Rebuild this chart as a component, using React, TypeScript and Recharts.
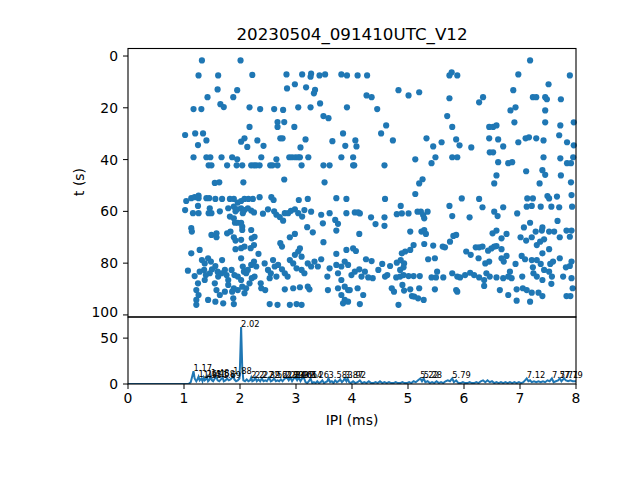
import { ScatterChart, ComposedChart, Scatter, Line, XAxis, YAxis } from 'recharts'

const TITLE = '20230504_091410UTC_V12'
const BLUE = '#1f77b4'
const FONT = 'DejaVu Sans, sans-serif'

const X_TICKS = [0, 1, 2, 3, 4, 5, 6, 7, 8]
const T_TICKS = [0, 20, 40, 60, 80, 100]
const COUNT_TICKS = [0, 50]

// [IPI (ms), t (s)]
const SCATTER_POINTS: [number, number][] = [
  [1.32, 1.7], [2.01, 1.7], [1.26, 7.5], [1.61, 7.5], [2.22, 7.3], [2.83, 7.1], [3.11, 7.1], [3.27, 6.8],
  [3.26, 8.0], [3.42, 7.5], [3.52, 7.1], [3.81, 7.1], [3.91, 7.5], [1.6, 12.9], [1.95, 13.2], [2.84, 12.5],
  [2.98, 10.9], [3.18, 12.1], [3.34, 13.1], [3.32, 14.4], [1.42, 15.9], [1.88, 15.9], [1.65, 18.6], [1.71, 19.7],
  [3.43, 18.3], [1.17, 20.5], [1.31, 20.5], [2.17, 19.8], [2.36, 20.5], [2.61, 20.5], [2.77, 20.8], [3.04, 19.8],
  [3.26, 19.8], [3.91, 19.8], [3.49, 23.2], [3.58, 24.0], [2.67, 25.5], [2.79, 25.5], [2.67, 27.4], [2.17, 27.4],
  [2.97, 27.4], [1.02, 30.5], [1.2, 29.9], [1.34, 29.9], [1.25, 34.4], [1.4, 32.6], [2.02, 33.1], [2.08, 31.8],
  [2.13, 35.1], [2.31, 32.6], [2.42, 34.7], [2.72, 31.8], [2.76, 31.8], [3.08, 35.3], [3.17, 32.2], [3.65, 32.9],
  [3.84, 29.9], [3.88, 34.7],
  [1.17, 39.1], [1.4, 39.1], [1.47, 39.1], [1.67, 39.1], [1.86, 39.1], [1.95, 39.9], [2.38, 39.1], [2.65, 39.9],
  [2.88, 39.1], [2.93, 39.1], [2.99, 39.1], [3.04, 39.1], [3.07, 39.1], [3.22, 39.1], [3.81, 39.1], [4.02, 39.1],
  [1.44, 42.2], [1.49, 42.2], [1.77, 42.2], [1.94, 42.2], [2.04, 42.2], [2.2, 42.2], [2.25, 42.2], [2.29, 42.2],
  [2.35, 42.2], [2.54, 42.2], [2.58, 42.2], [2.67, 42.2], [3.1, 42.2], [3.49, 42.2], [3.6, 42.2], [4.02, 42.2],
  [1.55, 49.0], [1.63, 48.8], [2.06, 48.8], [2.79, 47.7], [3.51, 48.8],
  [7.18, 1.7], [4.1, 7.5], [4.27, 7.5], [5.74, 7.5], [5.78, 6.3], [5.88, 7.5], [6.97, 7.1], [7.89, 7.5],
  [4.83, 13.2], [5.01, 15.2], [5.2, 14.0], [4.26, 15.2], [4.35, 15.9], [4.45, 20.5], [5.74, 16.3], [5.7, 23.2],
  [5.79, 27.4], [6.27, 17.9], [6.34, 15.9], [6.88, 13.2], [6.92, 19.8], [6.83, 21.0], [7.23, 15.9], [7.29, 15.9],
  [7.45, 15.9], [7.48, 16.7], [7.51, 10.9], [7.73, 16.7], [7.45, 21.0], [6.9, 25.6], [7.45, 25.6], [7.72, 26.8],
  [7.96, 25.6], [6.45, 27.4], [6.52, 27.4], [6.58, 26.8], [4.61, 26.8], [4.52, 29.9], [4.06, 32.6], [4.08, 34.9],
  [4.04, 42.2], [4.73, 32.6], [5.33, 31.8], [5.45, 34.9], [5.6, 33.3], [5.79, 39.1], [5.88, 39.1], [5.86, 32.2],
  [5.92, 34.5], [6.13, 35.3], [6.45, 31.8], [6.46, 37.2], [6.52, 37.2], [6.61, 32.2], [6.7, 34.9], [6.97, 33.3],
  [7.1, 31.8], [7.16, 31.4], [7.29, 31.8], [7.42, 32.6], [7.7, 30.6], [7.84, 33.3], [7.96, 34.5], [5.13, 39.9],
  [5.42, 41.4], [5.49, 39.1], [4.58, 42.2], [6.61, 41.0], [6.79, 41.4], [6.86, 41.0], [7.4, 44.1], [7.45, 45.9],
  [7.11, 44.5], [7.42, 39.1], [7.72, 39.5], [7.73, 46.1], [7.84, 41.4], [7.91, 41.4], [7.95, 39.1], [6.58, 46.1],
  [6.54, 49.2], [5.26, 47.6], [5.2, 49.2], [7.35, 49.2], [7.91, 48.8],
  [1.04, 56.0], [1.13, 54.9], [1.19, 54.5], [1.26, 53.9], [1.26, 54.9], [1.4, 54.9], [1.45, 54.9], [1.56, 55.2],
  [1.68, 55.2], [1.82, 55.2], [1.89, 55.2], [1.96, 56.6], [2.02, 56.0], [2.08, 55.2], [2.15, 55.2], [2.23, 55.2],
  [2.35, 54.5], [2.56, 54.5], [2.6, 55.6], [3.05, 55.6], [3.21, 55.2], [3.72, 54.9], [3.9, 55.2],
  [1.02, 59.5], [1.16, 60.7], [1.25, 57.9], [1.26, 60.7], [1.46, 58.8], [1.44, 60.7], [1.49, 60.7], [1.64, 60.0],
  [1.79, 58.8], [1.82, 62.0], [1.89, 58.2], [1.92, 60.0], [1.95, 59.2], [2.02, 58.8], [2.05, 60.7], [2.08, 59.5],
  [2.14, 58.8], [2.2, 59.7], [2.25, 60.4], [2.41, 60.9], [2.5, 59.2], [2.61, 60.0], [2.65, 61.3], [2.71, 62.2],
  [2.77, 63.6], [2.8, 60.7], [2.86, 60.7], [2.91, 59.8], [2.98, 59.2], [3.04, 60.7], [3.11, 62.0], [3.15, 59.5],
  [3.27, 60.1], [3.45, 61.3], [3.48, 64.6], [3.6, 60.7], [3.7, 63.3], [3.75, 64.8], [3.9, 60.7],
  [1.13, 66.5], [1.14, 67.8], [1.89, 62.7], [1.91, 64.4], [1.96, 64.4], [2.02, 64.4], [2.04, 65.9], [2.04, 67.2],
  [2.2, 67.2], [1.49, 69.1], [1.58, 68.5], [1.58, 70.0], [1.77, 68.5], [1.83, 67.8], [1.89, 70.0], [1.92, 71.3],
  [2.02, 71.0], [2.21, 70.4], [2.26, 69.8], [2.25, 73.0], [2.02, 74.2], [1.92, 74.6], [2.08, 73.6], [2.19, 74.2],
  [2.33, 76.4], [2.72, 72.3], [2.75, 73.6], [2.89, 70.0], [2.98, 68.7], [3.2, 66.1], [3.3, 68.1], [3.49, 71.9],
  [3.72, 67.4],
  [1.13, 76.2], [1.28, 74.9], [1.07, 82.9], [1.19, 85.0], [1.25, 87.8], [1.22, 90.4], [1.26, 92.3], [1.22, 94.2],
  [1.22, 96.1], [1.32, 78.8], [1.37, 80.1], [1.36, 82.6], [1.43, 78.1], [1.48, 79.4], [1.5, 82.4], [1.46, 83.9],
  [1.56, 81.1], [1.6, 83.3], [1.61, 85.2], [1.68, 78.8], [1.67, 83.9], [1.73, 82.6], [1.76, 84.6], [1.79, 86.5],
  [1.55, 87.8], [1.58, 90.4], [1.64, 92.3], [1.56, 94.9], [1.43, 94.2], [1.7, 95.5], [1.85, 82.6], [1.9, 84.6],
  [1.89, 89.7], [1.88, 93.6], [1.89, 95.8], [1.96, 85.2], [2.02, 78.1], [2.05, 81.3], [2.07, 83.3], [2.02, 86.5],
  [2.04, 89.1], [2.08, 91.6], [2.11, 83.9], [2.14, 82.6], [2.2, 80.7], [2.25, 79.4], [2.29, 81.3], [2.26, 85.2],
  [2.21, 85.8], [2.37, 87.8], [2.38, 89.7], [2.45, 90.4], [2.44, 80.1], [2.5, 82.6], [2.55, 83.9], [2.59, 78.8],
  [2.62, 81.3], [2.68, 80.7], [2.75, 82.4], [2.8, 83.9], [2.85, 85.2], [2.65, 85.2], [2.53, 85.8], [2.8, 90.1],
  [2.95, 89.7], [3.07, 89.3], [3.21, 89.1], [3.24, 90.1], [2.53, 95.8], [2.67, 96.1], [2.89, 96.1], [3.01, 95.8],
  [3.1, 96.1], [2.89, 78.8], [2.95, 80.1], [2.98, 76.8], [3.04, 75.5], [3.07, 74.3], [3.1, 77.5], [3.01, 82.0],
  [3.1, 82.6], [3.15, 83.9], [3.21, 80.1], [3.27, 81.3], [3.33, 79.4], [3.39, 81.3], [3.45, 78.5], [3.6, 82.0],
  [3.72, 80.7], [3.81, 81.3], [3.87, 79.4], [3.93, 80.7], [3.56, 85.2], [3.75, 83.9], [3.81, 86.5], [3.87, 89.1],
  [3.75, 89.7], [3.93, 90.4], [3.57, 90.4], [3.81, 92.3], [3.87, 94.2], [3.84, 95.5], [3.93, 94.9], [3.9, 74.9],
  [3.72, 76.4], [1.37, 86.5], [1.28, 83.3], [1.39, 84.6], [1.79, 88.4], [1.73, 91.0], [1.96, 90.4], [2.11, 89.7],
  [2.17, 87.8], [1.86, 91.0],
  [4.59, 55.2], [5.13, 53.3], [5.74, 57.9], [5.79, 61.8], [5.96, 55.0], [6.27, 55.2], [6.33, 58.4], [6.7, 58.4],
  [6.54, 60.1], [6.6, 61.8], [7.13, 55.0], [7.23, 55.0], [7.12, 58.2], [7.21, 57.9], [7.49, 54.1], [7.52, 55.0],
  [7.66, 54.3], [7.37, 58.2], [7.56, 58.2], [7.7, 58.4], [7.92, 53.7], [7.93, 58.2], [4.05, 60.4], [4.11, 60.4],
  [4.14, 60.8], [4.34, 62.3], [4.42, 64.9], [4.58, 62.3], [4.58, 65.6], [4.8, 61.1], [4.87, 57.9], [4.89, 60.8],
  [5.01, 60.8], [5.17, 60.1], [5.23, 60.1], [5.35, 60.1], [5.27, 61.4], [5.29, 62.7], [4.13, 68.7], [5.04, 67.8],
  [5.24, 67.8], [5.29, 67.2], [5.32, 68.7], [6.1, 62.3], [6.51, 68.5], [6.58, 67.4], [6.76, 68.7], [6.67, 70.4],
  [6.95, 60.8], [7.07, 66.2], [7.18, 64.4], [7.28, 67.8], [7.39, 67.4], [7.4, 66.2], [7.52, 67.8], [7.61, 67.8],
  [7.67, 63.7], [7.71, 70.0], [7.83, 67.4], [7.92, 67.4], [7.89, 69.8], [7.01, 70.0], [7.11, 71.3], [7.21, 70.0],
  [7.3, 73.0], [7.36, 71.7], [7.43, 70.8], [7.52, 74.6], [7.4, 76.2],
  [4.02, 74.3], [4.07, 75.3], [4.25, 78.5], [4.35, 79.2], [4.47, 82.6], [4.54, 80.3], [4.68, 81.1], [4.8, 79.8],
  [4.89, 76.2], [4.87, 78.8], [4.95, 75.5], [5.04, 74.9], [5.1, 73.0], [4.93, 80.1], [4.92, 81.6], [4.86, 82.6],
  [5.29, 72.6], [5.36, 78.5], [5.48, 78.1], [5.52, 83.3], [5.45, 73.2], [5.62, 73.6], [5.66, 73.9], [5.75, 71.7],
  [5.81, 69.5], [5.86, 69.1], [6.04, 75.5], [6.12, 76.8], [6.21, 73.9], [6.27, 73.9], [6.33, 73.6], [6.26, 78.1],
  [6.38, 80.1], [6.43, 75.2], [6.49, 74.3], [6.54, 73.6], [6.58, 73.4], [6.45, 79.4], [6.67, 74.6], [6.67, 78.1],
  [6.71, 79.4], [6.76, 77.2], [6.82, 83.3], [6.92, 80.3], [7.03, 77.2], [7.09, 78.5], [7.21, 78.8], [7.23, 81.6],
  [7.3, 78.8], [7.37, 80.3], [7.43, 82.6], [7.54, 80.3], [7.59, 79.4], [7.71, 78.1], [7.82, 81.6], [7.89, 81.1],
  [7.92, 79.4],
  [3.99, 84.6], [4.05, 83.3], [4.13, 82.4], [4.17, 85.2], [4.23, 83.3], [4.29, 85.5], [4.37, 85.8], [4.59, 85.2],
  [4.63, 84.6], [4.79, 85.5], [4.86, 85.2], [4.92, 84.6], [5.01, 85.0], [5.1, 85.0], [5.21, 85.0], [5.42, 85.5],
  [5.5, 85.5], [5.63, 85.5], [5.79, 83.9], [5.88, 85.2], [5.93, 85.5], [6.02, 84.6], [6.11, 83.7], [6.18, 84.6],
  [6.27, 85.5], [6.36, 86.5], [6.4, 83.9], [6.46, 85.2], [6.58, 85.5], [6.7, 85.8], [6.79, 85.2], [6.85, 85.8],
  [7.04, 85.2], [7.24, 83.9], [7.3, 85.2], [7.4, 86.5], [7.52, 83.3], [7.57, 85.2], [7.77, 85.2], [7.92, 85.8],
  [3.96, 90.4], [4.1, 89.7], [4.2, 92.3], [4.14, 95.8], [4.71, 89.7], [4.75, 91.0], [4.83, 96.1], [4.9, 88.4],
  [4.93, 90.6], [5.04, 90.1], [5.07, 92.7], [5.11, 92.9], [5.2, 89.7], [5.18, 93.6], [5.28, 94.2], [5.48, 90.1],
  [5.86, 90.4], [5.88, 91.0], [6.36, 88.8], [6.64, 90.4], [6.79, 92.3], [6.94, 90.1], [6.94, 94.5], [7.05, 89.7],
  [7.12, 90.4], [7.21, 91.4], [7.18, 94.9], [7.33, 91.4], [7.4, 92.7], [7.56, 88.0], [7.83, 92.7], [7.9, 92.7],
  [7.94, 89.7],
]

// IPI histogram: bin position (ms) and count
const HIST_IPI = [
  0, 1.08, 1.12, 1.15, 1.17, 1.19, 1.22, 1.24, 1.26, 1.28, 1.31, 1.33, 1.35, 1.37, 1.39, 1.41, 1.43, 1.46, 1.48, 1.5,
  1.52, 1.55, 1.58, 1.6, 1.63, 1.66, 1.69, 1.71, 1.74, 1.77, 1.8, 1.83, 1.86, 1.88, 1.9, 1.93, 1.96, 1.99, 2.0, 2.02,
  2.04, 2.06, 2.09, 2.12, 2.15, 2.18, 2.2, 2.22, 2.25, 2.27, 2.3, 2.33, 2.36, 2.39, 2.42, 2.45, 2.48, 2.52, 2.55, 2.58,
  2.61, 2.64, 2.67, 2.7, 2.73, 2.76, 2.8, 2.84, 2.87, 2.9, 2.93, 2.96, 2.99, 3.02, 3.05, 3.08, 3.11, 3.14, 3.17, 3.2,
  3.23, 3.26, 3.29, 3.32, 3.35, 3.38, 3.41, 3.44, 3.47, 3.5, 3.53, 3.56, 3.58, 3.61, 3.64, 3.67, 3.7, 3.73, 3.76, 3.79,
  3.82, 3.85, 3.87, 3.9, 3.92, 3.95, 3.98, 4.02, 4.06, 4.1, 4.14, 4.18, 4.22, 4.26, 4.3, 4.34, 4.38, 4.42, 4.46, 4.5,
  4.54, 4.58, 4.62, 4.66, 4.7, 4.74, 4.78, 4.82, 4.86, 4.9, 4.94, 4.98, 5.02, 5.06, 5.1, 5.14, 5.18, 5.22, 5.25, 5.28,
  5.31, 5.35, 5.39, 5.43, 5.47, 5.51, 5.55, 5.59, 5.63, 5.67, 5.71, 5.75, 5.79, 5.82, 5.86, 5.9, 5.94, 5.98, 6.02, 6.06,
  6.1, 6.14, 6.18, 6.22, 6.26, 6.3, 6.34, 6.38, 6.42, 6.46, 6.5, 6.54, 6.58, 6.62, 6.66, 6.7, 6.74, 6.78, 6.82, 6.86,
  6.9, 6.94, 6.98, 7.02, 7.06, 7.09, 7.12, 7.15, 7.18, 7.21, 7.25, 7.29, 7.33, 7.37, 7.41, 7.45, 7.49, 7.53, 7.57, 7.6,
  7.64, 7.68, 7.71, 7.74, 7.77, 7.79, 7.82, 7.86, 7.9, 7.94, 8.0,
]
const HIST_COUNT = [
  0, 0, 2, 9, 14, 6, 3, 5, 8, 4, 6, 3, 7, 4, 5, 8, 3, 5, 9, 4,
  3, 6, 8, 4, 3, 5, 7, 3, 4, 6, 4, 5, 7, 11, 5, 3, 4, 6, 20, 62,
  18, 4, 3, 5, 3, 4, 7, 3, 4, 7, 3, 5, 3, 6, 3, 4, 3, 7, 3, 4,
  6, 3, 4, 3, 5, 3, 6, 7, 4, 7, 3, 6, 7, 4, 7, 3, 6, 7, 2, 1,
  3, 6, 1, 2, 1, 3, 1, 2, 4, 1, 2, 3, 6, 2, 3, 1, 4, 2, 3, 5,
  2, 4, 6, 3, 6, 2, 1, 3, 1, 2, 4, 1, 2, 1, 3, 1, 1, 2, 1, 3,
  1, 2, 1, 2, 1, 1, 2, 1, 1, 2, 1, 1, 2, 1, 3, 2, 4, 6, 3, 6,
  2, 3, 1, 2, 1, 3, 1, 2, 1, 3, 4, 3, 6, 2, 4, 1, 1, 2, 1, 1,
  2, 1, 1, 2, 1, 3, 4, 2, 4, 2, 3, 1, 2, 1, 2, 1, 2, 1, 2, 1,
  2, 1, 2, 1, 2, 4, 6, 3, 4, 2, 3, 2, 3, 2, 3, 2, 4, 3, 6, 2,
  3, 4, 6, 3, 5, 6, 4, 3, 4, 3, 3,
]

// annotated peaks
const PEAK_IPI = [
  1.17, 1.26, 1.35, 1.41, 1.48, 1.58, 1.69, 1.88, 2.02, 2.2, 2.27, 2.39, 2.52, 2.61, 2.8, 2.84,
  2.9, 2.96, 2.99, 3.05, 3.14, 3.26, 3.58, 3.87, 3.92, 5.22, 5.28, 5.79, 7.12, 7.57, 7.71, 7.79,
]
const PEAK_COUNT = [
  14, 8, 7, 8, 9, 8, 7, 11, 62, 7, 7, 6, 7, 6, 6, 7,
  7, 6, 7, 7, 7, 6, 6, 6, 6, 6, 6, 6, 6, 6, 6, 6,
]

const scatterData = SCATTER_POINTS.map(([ipi, t]) => ({ ipi, t }))
const histData = HIST_IPI.map((ipi, i) => ({ ipi, count: HIST_COUNT[i] }))
const peakData = PEAK_IPI.map((ipi, i) => ({ ipi, count: PEAK_COUNT[i], label: String(ipi) }))

const tickStyle = { fill: '#000', fontSize: 13.9, fontFamily: FONT }

function Dot(props: any) {
  return <circle cx={props.cx} cy={props.cy} r={3.1} fill={BLUE} />
}

function PeakLabel(props: any) {
  return (
    <text x={props.cx} y={props.cy} fontSize={8.3} fontFamily={FONT} fill="#000">
      {props.payload.label}
    </text>
  )
}

export default function App() {
  return (
    <div style={{ position: 'fixed', left: 0, top: 0, width: 640, height: 480, background: '#fff' }}>
      <div style={{ position: 'absolute', left: 0, top: 0 }}>
        <ScatterChart width={640} height={320} margin={{ top: 48, right: 64, bottom: 3, left: 0 }}>
          <XAxis type="number" dataKey="ipi" domain={[0, 8]} hide />
          <YAxis
            type="number"
            dataKey="t"
            domain={[-3.1, 100.8]}
            reversed
            ticks={T_TICKS}
            width={128}
            axisLine={false}
            tickLine={{ stroke: '#000' }}
            tickSize={5}
            tickMargin={5}
            tick={tickStyle}
            allowDataOverflow
          />
          <Scatter data={scatterData} shape={Dot} isAnimationActive={false} />
        </ScatterChart>
      </div>
      <div style={{ position: 'absolute', left: 0, top: 317 }}>
        <ComposedChart width={640} height={163} data={histData} margin={{ top: 0, right: 64, bottom: 46, left: 0 }}>
          <XAxis
            type="number"
            dataKey="ipi"
            domain={[0, 8]}
            ticks={X_TICKS}
            height={50}
            axisLine={false}
            tickLine={{ stroke: '#000' }}
            tickSize={5}
            tickMargin={4}
            tick={tickStyle}
          />
          <YAxis
            type="number"
            domain={[0, 73]}
            ticks={COUNT_TICKS}
            width={128}
            axisLine={false}
            tickLine={{ stroke: '#000' }}
            tickSize={5}
            tickMargin={5}
            tick={tickStyle}
            allowDataOverflow
          />
          <Line
            type="linear"
            dataKey="count"
            stroke={BLUE}
            strokeWidth={2}
            dot={false}
            isAnimationActive={false}
          />
          <Scatter data={peakData} dataKey="count" shape={PeakLabel} isAnimationActive={false} />
        </ComposedChart>
      </div>
      <svg width={640} height={480} style={{ position: 'absolute', left: 0, top: 0, pointerEvents: 'none' }}>
        <rect x={128} y={48.5} width={448} height={268.5} fill="none" stroke="#000" strokeWidth={1.1} />
        <rect x={128} y={317} width={448} height={67} fill="none" stroke="#000" strokeWidth={1.1} />
        <text x={352} y={40} textAnchor="middle" fontSize={16.7} fontFamily={FONT} fill="#000">
          {TITLE}
        </text>
        <text
          x={84}
          y={182}
          textAnchor="middle"
          fontSize={13.9}
          fontFamily={FONT}
          fill="#000"
          transform="rotate(-90 84 182)"
        >
          t (s)
        </text>
        <text x={352} y={425} textAnchor="middle" fontSize={13.9} fontFamily={FONT} fill="#000">
          IPI (ms)
        </text>
      </svg>
    </div>
  )
}
